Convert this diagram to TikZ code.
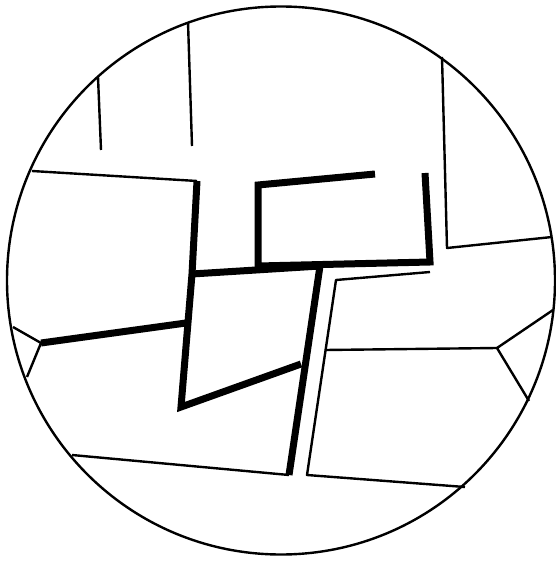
\documentclass[tikz,border=0pt]{standalone}
\usetikzlibrary{calc}
\tikzset{thinline/.style={draw=black,line width=2.4pt,line join=round},thickline/.style={draw=black,line width=7pt,line join=miter,line cap=butt}}
\begin{document}
\begin{tikzpicture}[x=1pt,y=-1pt]
\useasboundingbox (0,0) rectangle (555,561);
% outer disc
\coordinate (c) at (281,280.5);
\draw[thinline] (c) circle[radius=274];
% junctions of the cells
\coordinate (tl1) at (98,77);\coordinate (tl1e) at (101,150);
\coordinate (tl2) at (188,22);\coordinate (tl2e) at (192,146);
\coordinate (lw) at (32,171);\coordinate (lc) at (197,181);
\coordinate (lm) at (192,274);\coordinate (lb) at (181,407);\coordinate (lk) at (301,364);
\coordinate (ltri) at (41,343);\coordinate (ltria) at (13,327);\coordinate (ltrib) at (27,377);\coordinate (lx) at (186,323);
\coordinate (mr) at (320,266);\coordinate (mb) at (289,475);
\coordinate (ua) at (375,174);\coordinate (ub) at (258,185);\coordinate (uc) at (258,266);\coordinate (ud) at (430,262);\coordinate (ue) at (425,173);
\coordinate (bw) at (72,455);
\coordinate (pa) at (430,272);\coordinate (pb) at (336,280);\coordinate (pc) at (307,475);\coordinate (pd) at (465,487);
\coordinate (ra) at (325,350);\coordinate (rtri) at (497,348);\coordinate (rtria) at (553,310);\coordinate (rtrib) at (529,401);
\coordinate (tra) at (442,57);\coordinate (trb) at (447,248);\coordinate (trc) at (552,237);
% thin borders
\draw[thinline] (tl1)--(tl1e);\draw[thinline] (tl2)--(tl2e);
\draw[thinline] (lw)--(lc);
\draw[thinline] (ltria)--(ltri)--(ltrib);
\draw[thinline] (bw)--(mb);
\draw[thinline] (pa)--(pb)--(pc)--(pd);
\draw[thinline] (ra)--(rtri);\draw[thinline] (rtria)--(rtri)--(rtrib);
\draw[thinline] (tra)--(trb)--(trc);
% thick borders
\draw[thickline] (lc)--(lm)--(lb)--(lk);
\draw[thickline] (ltri)--(lx);
\draw[thickline] (lm)--(mr)--(mb);
\draw[thickline] (ua)--(ub)--(uc)--(ud)--(ue);
\end{tikzpicture}
\end{document}
